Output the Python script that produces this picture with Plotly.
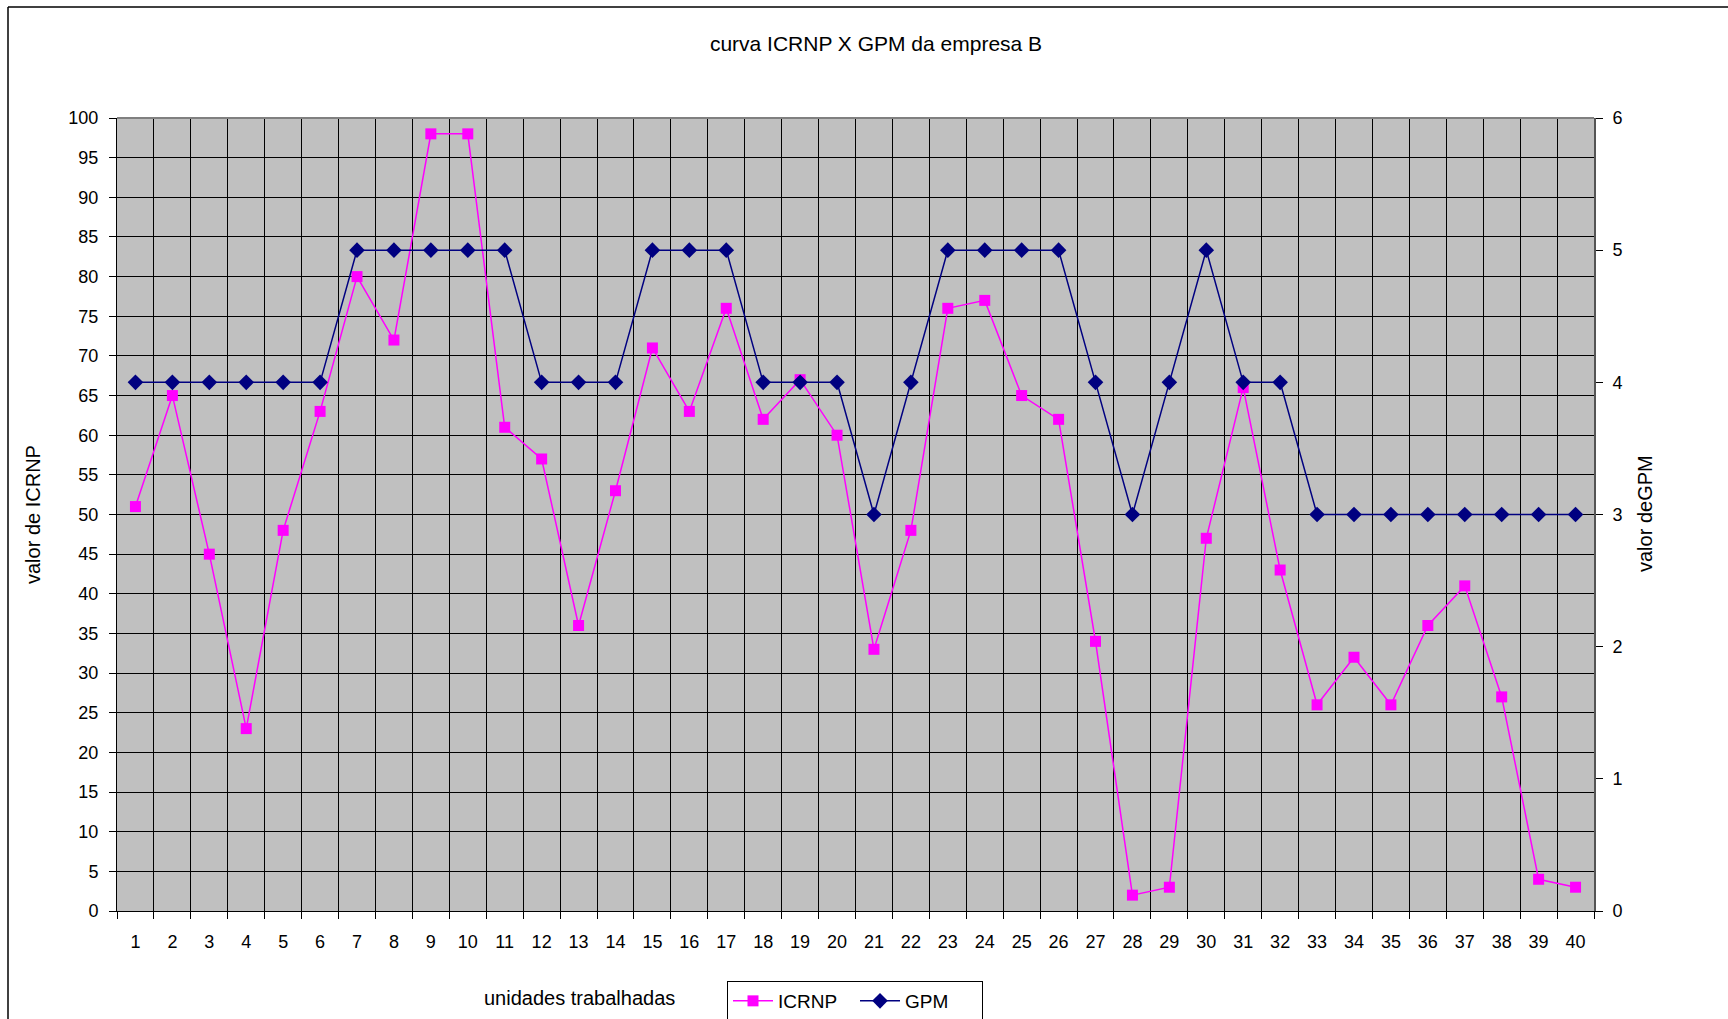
import plotly.graph_objects as go

units = list(range(1, 41))
tick_labels = [str(u) for u in units]
icrnp = [51, 65, 45, 23, 48, 63, 80, 72, 98, 98,
         61, 57, 36, 53, 71, 63, 76, 62, 67, 60,
         33, 48, 76, 77, 65, 62, 34, 2, 3, 47,
         66, 43, 26, 32, 26, 36, 41, 27, 4, 3]
gpm = [4, 4, 4, 4, 4, 4, 5, 5, 5, 5,
       5, 4, 4, 4, 5, 5, 5, 4, 4, 4,
       3, 4, 5, 5, 5, 5, 4, 3, 4, 5,
       4, 4, 3, 3, 3, 3, 3, 3, 3, 3]

FONT = "Arial, 'Liberation Sans', sans-serif"

fig = go.Figure()
fig.add_trace(go.Scatter(
    x=units, y=icrnp, name="ICRNP", mode="lines+markers",
    line=dict(color="#FF00FF", width=1.5),
    marker=dict(symbol="square", size=11, color="#FF00FF"),
    yaxis="y"))
fig.add_trace(go.Scatter(
    x=units, y=gpm, name="GPM", mode="lines+markers",
    line=dict(color="#000080", width=1.5),
    marker=dict(symbol="diamond", size=12, color="#000080"),
    yaxis="y2"))

W, H = 1728, 1019
L, R, T, B = 117, 1594, 118, 911
pw, ph = R - L, B - T

def px(x):
    return (x - L) / pw

def py(y):
    return (B - y) / ph

fig.update_layout(
    width=W, height=H,
    margin=dict(l=L, r=W - R, t=T, b=H - B, pad=0, autoexpand=False),
    paper_bgcolor="white",
    plot_bgcolor="#C0C0C0",
    font=dict(family=FONT, size=18, color="black"),
    title=dict(text="curva ICRNP X GPM da empresa B", x=876 / W, xanchor="center",
               y=1 - 44 / H, yanchor="middle", font=dict(size=21, family=FONT)),
    showlegend=True,
    legend=dict(orientation="h", xref="container", yref="container",
                x=727 / W, xanchor="left", y=1 - 981 / H, yanchor="top",
                bordercolor="black", borderwidth=1, bgcolor="white",
                font=dict(size=19, family=FONT), itemwidth=40,
                entrywidth=72, tracegroupgap=0),
    xaxis=dict(range=[0.5, 40.5], tickmode="array", tickvals=units, ticktext=tick_labels,
               ticks="", showgrid=False, zeroline=False, automargin=False,
               showline=True, linecolor="black", linewidth=1,
               tickfont=dict(size=18), ticklabelstandoff=14,
               minor=dict(tick0=0.5, dtick=1, showgrid=True, gridcolor="black", gridwidth=1,
                          ticks="outside", ticklen=7, tickcolor="black")),
    yaxis=dict(range=[0, 100], dtick=5, tick0=0, showgrid=True, gridcolor="black", gridwidth=1,
               ticks="outside", ticklen=7, tickcolor="black", zeroline=False, automargin=False,
               showline=True, linecolor="black", linewidth=1, tickfont=dict(size=18),
               ticklabelstandoff=7),
    yaxis2=dict(range=[0, 6], dtick=1, tick0=0, overlaying="y", side="right", automargin=False,
                showgrid=False, zeroline=False, ticks="outside", ticklen=7, tickcolor="black",
                showline=True, linecolor="#555555", linewidth=2, tickfont=dict(size=18),
                ticklabelstandoff=6),
)

fig.add_annotation(text="unidades trabalhadas", xref="paper", yref="paper",
                   x=px(579), y=py(998), xanchor="center", yanchor="middle",
                   showarrow=False, font=dict(size=20, family=FONT))
fig.add_annotation(text="valor de ICRNP", xref="paper", yref="paper",
                   x=px(33), y=py(515), xanchor="center", yanchor="middle", textangle=-90,
                   showarrow=False, font=dict(size=20, family=FONT))
fig.add_annotation(text="valor deGPM", xref="paper", yref="paper",
                   x=px(1645), y=py(514), xanchor="center", yanchor="middle", textangle=-90,
                   showarrow=False, font=dict(size=20, family=FONT))

# plot-area top edge (grey) and chart outer border (left/top)
fig.add_shape(type="line", xref="paper", yref="paper", x0=0, x1=1, y0=1, y1=1,
              line=dict(color="#808080", width=2))
fig.add_shape(type="line", xref="paper", yref="paper", x0=px(8), x1=px(8), y0=py(7), y1=py(1030),
              line=dict(color="black", width=1.5))
fig.add_shape(type="line", xref="paper", yref="paper", x0=px(8), x1=px(1740), y0=py(7), y1=py(7),
              line=dict(color="black", width=1.5))

fig.write_html("out.html")
